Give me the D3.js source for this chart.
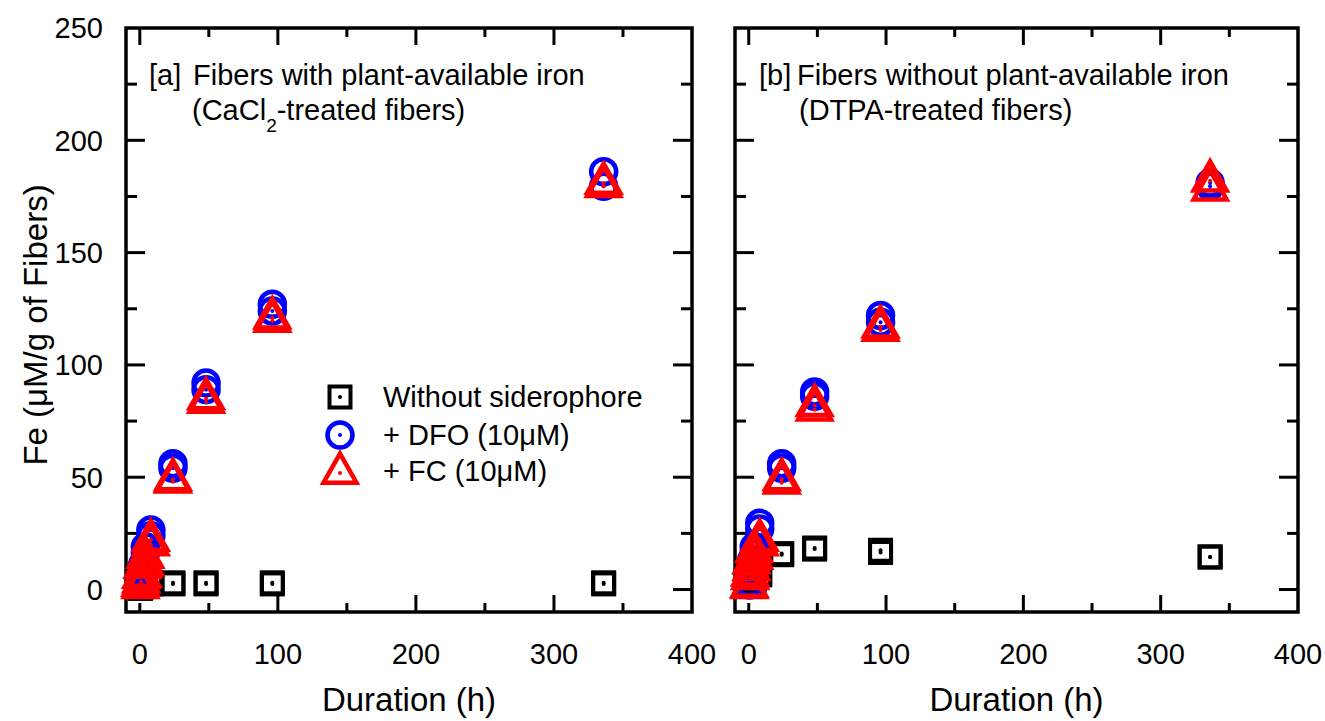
<!DOCTYPE html>
<html>
<head>
<meta charset="utf-8">
<script src="https://cdn.jsdelivr.net/npm/d3@7/dist/d3.min.js"></script>
<style>
  body { margin: 0; background: #fff; }
  text { font-family: "Liberation Sans", Arial, sans-serif; fill: #000; }
</style>
</head>
<body>
<div class="mainContainer"></div>
<script>
// sampling times (h)
var hours = [0.5, 1, 2, 4, 8, 24, 48, 96, 336];

// [a] CaCl2-treated fibers, two replicates per treatment
var aNone1 = [1, 1.5, 2, 2.5, 3, 3, 3, 3, 3];
var aNone2 = [0.5, 1, 1.5, 2, 2.5, 2.5, 2.5, 2.5, 2.5];
var aDfo1 = [3, 7, 11, 19, 26.5, 56, 92, 127, 186];
var aDfo2 = [2, 5, 9, 16, 24, 54, 89, 124, 179.5];
var aFc1 = [2, 5.5, 10, 14.5, 22, 49, 85, 121, 181];
var aFc2 = [1, 3.5, 6, 11, 20, 48, 83.5, 119.5, 179.5];

// [b] DTPA-treated fibers
var bNone1 = [2, 3, 4, 5, 7, 16, 18.5, 17.5, 14.5];
var bNone2 = [1.5, 2.5, 3.5, 4.5, 6.5, 15.5, 18, 16.5, 14.5];
var bDfo1 = [3, 8, 13, 19, 29.5, 56, 88, 122, 181];
var bDfo2 = [2, 6, 10, 16, 27, 54, 86, 119, 179.5];
var bFc1 = [1.5, 6.5, 12, 17, 22, 49, 82, 117, 182];
var bFc2 = [1, 5, 9, 14, 20, 47.5, 80, 115.5, 178];

var xTicks = [0, 50, 100, 150, 200, 250, 300, 350, 400];
var yTicks = [0, 25, 50, 75, 100, 125, 150, 175, 200, 225, 250];
var legendLabels = ["Without siderophore", "+ DFO (10\u03bcM)", "+ FC (10\u03bcM)"];

var svg = d3.select(".mainContainer").append("svg")
  .attr("width", 1325).attr("height", 721);

var y = d3.scaleLinear().domain([-10, 250]).range([612, 28]);

// marker shapes
function addSquare(g, cx, cy) {
  g.append("rect").attr("x", cx - 10.5).attr("y", cy - 10.5).attr("width", 21).attr("height", 21)
    .style("fill", "none").style("stroke", "#000").style("stroke-width", 4);
  g.append("circle").attr("cx", cx).attr("cy", cy).attr("r", 2).style("fill", "#000");
}
function addCircle(g, cx, cy) {
  g.append("circle").attr("cx", cx).attr("cy", cy).attr("r", 12.5)
    .style("fill", "none").style("stroke", "#0000ff").style("stroke-width", 4.5);
  g.append("circle").attr("cx", cx).attr("cy", cy).attr("r", 2).style("fill", "#0000ff");
}
function addTriangle(g, cx, cy) {
  var h = 29, hw = 16.5;
  g.append("path")
    .attr("d", "M" + cx + "," + (cy - 2 * h / 3) + "L" + (cx + hw) + "," + (cy + h / 3) + "L" + (cx - hw) + "," + (cy + h / 3) + "Z")
    .style("fill", "none").style("stroke", "#ff0000").style("stroke-width", 4.5).style("stroke-linejoin", "miter");
  g.append("circle").attr("cx", cx).attr("cy", cy).attr("r", 2).style("fill", "#ff0000");
}

function drawPanel(left, right, none, dfo, fc, showYLabels) {
  var x = d3.scaleLinear().domain([-10, 400]).range([left, right]);
  var g = svg.append("g");

  // ticks, inside on all four sides
  xTicks.forEach(function(t) {
    if (t >= 400) return;
    var len = (t % 100 === 0) ? 17 : 9;
    if (t === 0) len = 9;
    g.append("line").attr("x1", x(t)).attr("x2", x(t)).attr("y1", y(-10)).attr("y2", y(-10) - len)
      .style("stroke", "#000").style("stroke-width", 3);
    g.append("line").attr("x1", x(t)).attr("x2", x(t)).attr("y1", y(250)).attr("y2", y(250) + (t === 0 ? 17 : len))
      .style("stroke", "#000").style("stroke-width", 3);
  });
  yTicks.forEach(function(t) {
    if (t >= 250) return;
    var len = (t % 50 === 0) ? 19 : 11;
    g.append("line").attr("x1", x(-10)).attr("x2", x(-10) + len).attr("y1", y(t)).attr("y2", y(t))
      .style("stroke", "#000").style("stroke-width", 3);
    g.append("line").attr("x1", x(400)).attr("x2", x(400) - len).attr("y1", y(t)).attr("y2", y(t))
      .style("stroke", "#000").style("stroke-width", 3);
  });

  // frame
  g.append("rect").attr("x", x(-10)).attr("y", y(250)).attr("width", x(400) - x(-10)).attr("height", y(-10) - y(250))
    .style("fill", "none").style("stroke", "#000").style("stroke-width", 3.5);

  // tick labels
  xTicks.filter(function(t) { return t % 100 === 0; }).forEach(function(t) {
    g.append("text").attr("x", x(t)).attr("y", 664).attr("text-anchor", "middle")
      .style("font-size", "29px").text(t);
  });
  if (showYLabels) {
    yTicks.filter(function(t) { return t % 50 === 0; }).forEach(function(t) {
      g.append("text").attr("x", 103).attr("y", y(t)).attr("dy", "0.36em").attr("text-anchor", "end")
        .style("font-size", "29px").text(t);
    });
  }

  g.append("text").attr("x", (left + right) / 2).attr("y", 711).attr("text-anchor", "middle")
    .style("font-size", "33px").text("Duration (h)");

  // data
  var marks = svg.append("g");
  none.forEach(function(arr) {
    hours.forEach(function(h, i) { addSquare(marks, x(h), y(arr[i])); });
  });
  dfo.forEach(function(arr) {
    hours.forEach(function(h, i) { addCircle(marks, x(h), y(arr[i])); });
  });
  fc.forEach(function(arr) {
    hours.forEach(function(h, i) { addTriangle(marks, x(h), y(arr[i])); });
  });
  return g;
}

var ga = drawPanel(126, 692, [aNone1, aNone2], [aDfo1, aDfo2], [aFc1, aFc2], true);
var gb = drawPanel(735, 1298, [bNone1, bNone2], [bDfo1, bDfo2], [bFc1, bFc2], false);

// y axis title
svg.append("text").attr("transform", "translate(47,325) rotate(-90)").attr("text-anchor", "middle")
  .style("font-size", "33px").text("Fe (\u03bcM/g of Fibers)");

// panel annotations
svg.append("text").attr("x", 149).attr("y", 85).style("font-size", "29px").text("[a]");
svg.append("text").attr("x", 193).attr("y", 85).style("font-size", "29px").text("Fibers with plant-available iron");
var t2 = svg.append("text").attr("x", 192).attr("y", 120).style("font-size", "29px");
t2.append("tspan").text("(CaCl");
t2.append("tspan").attr("dy", 12).style("font-size", "19px").text("2");
t2.append("tspan").attr("dy", -12).text("-treated fibers)");

svg.append("text").attr("x", 759).attr("y", 85).style("font-size", "29px").text("[b]");
svg.append("text").attr("x", 797).attr("y", 85).style("font-size", "29px").text("Fibers without plant-available iron");
svg.append("text").attr("x", 799).attr("y", 120).style("font-size", "29px").text("(DTPA-treated fibers)");

// legend
var leg = svg.append("g");
addSquare(leg, 340, 397);
addCircle(leg, 340, 435);
addTriangle(leg, 340, 473);
legendLabels.forEach(function(lbl, i) {
  leg.append("text").attr("x", 383).attr("y", [407, 445, 481][i]).style("font-size", "29px").text(lbl);
});
</script>
</body>
</html>
